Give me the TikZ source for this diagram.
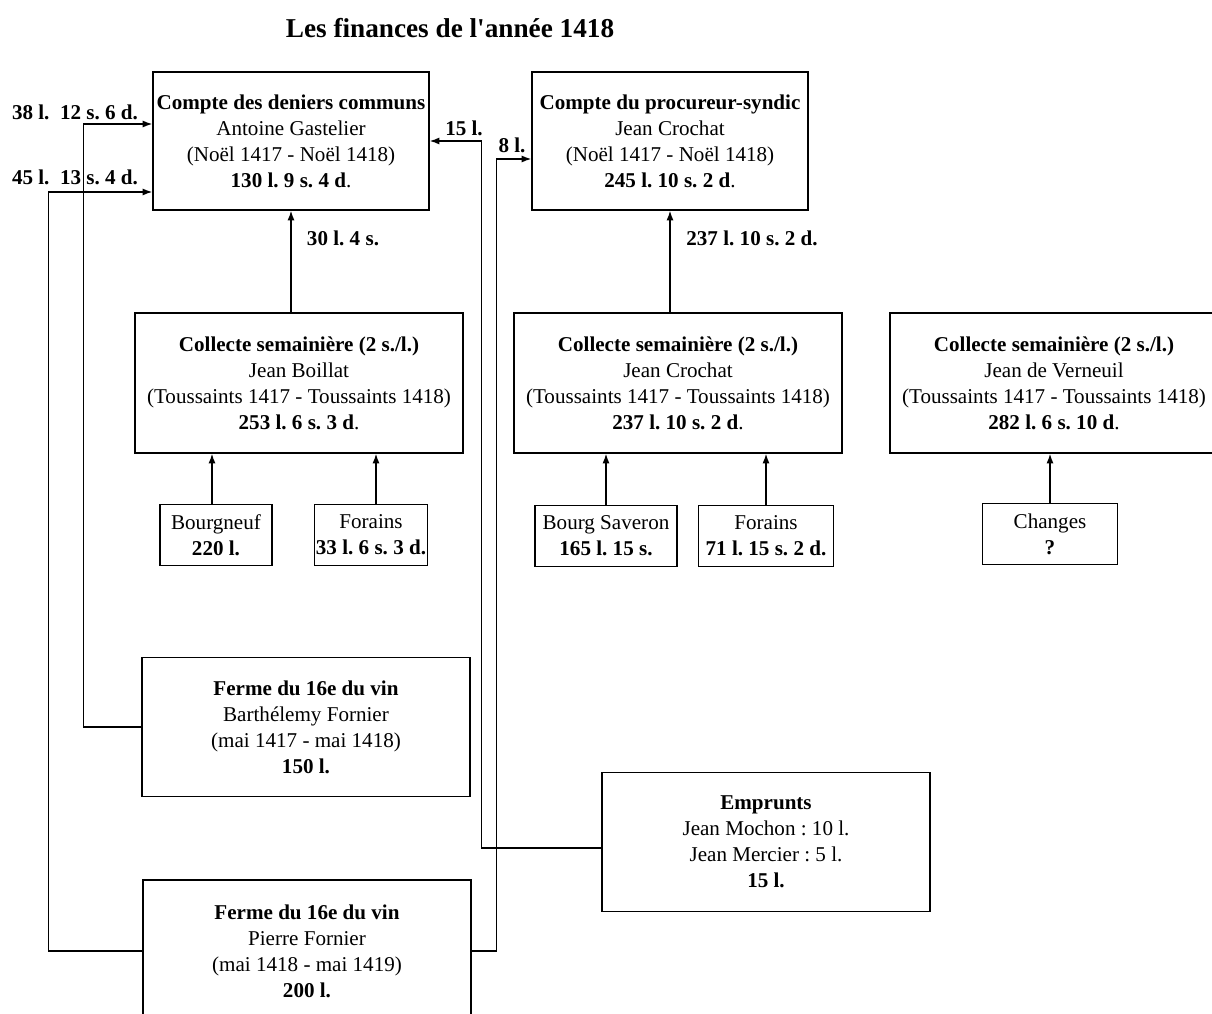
\documentclass[tikz,border=0pt]{standalone}
\usepackage{fontspec}
\setmainfont{Liberation Serif}
\usetikzlibrary{arrows.meta}
\frenchspacing

\begin{document}
\begin{tikzpicture}[x=0.02cm, y=-0.02cm, >={Latex[length=5.5pt, width=4pt]},
      every node/.style={font=\fontsize{12}{14.8}\selectfont},
      account/.style={draw, thick, align=center, inner sep=0pt,
          minimum width=5.52cm, minimum height=2.76cm},
      collect/.style={draw, thick, align=center, inner sep=0pt,
          minimum width=6.56cm, minimum height=2.8cm},
      source/.style={draw, thick, align=center, inner sep=0pt,
          minimum height=1.22cm},
      amount/.style={font=\fontsize{12}{14.8}\selectfont\bfseries, inner sep=1pt}]
    \useasboundingbox (0,0) rectangle (1212,1013);
    \node[font=\fontsize{15.5}{18}\selectfont\bfseries] (title) at (450,28)
          {Les finances de l\textquotesingle année 1418};
    % comptes
    \node[account] (DEN) at (291,141)
          {\textbf{Compte des deniers communs}\\Antoine Gastelier\\(Noël 1417 - Noël 1418)\\\textbf{130 l. 9 s. 4 d}.};
    \node[account] (PROC) at (670,141)
          {\textbf{Compte du procureur-syndic}\\Jean Crochat\\(Noël 1417 - Noël 1418)\\\textbf{245 l. 10 s. 2 d}.};
    % collectes
    \node[collect] (COLB) at (299,383)
          {\textbf{Collecte semainière (2 s./l.)}\\Jean Boillat\\(Toussaints 1417 - Toussaints 1418)\\\textbf{253 l. 6 s. 3 d}.};
    \node[collect] (COLC) at (678,383)
          {\textbf{Collecte semainière (2 s./l.)}\\Jean Crochat\\(Toussaints 1417 - Toussaints 1418)\\\textbf{237 l. 10 s. 2 d}.};
    \node[collect] (COLV) at (1054,383)
          {\textbf{Collecte semainière (2 s./l.)}\\Jean de Verneuil\\(Toussaints 1417 - Toussaints 1418)\\\textbf{282 l. 6 s. 10 d}.};
    % sources
    \node[source, minimum width=2.24cm] (BOURG) at (216,535) {Bourgneuf\\\textbf{220 l.}};
    \node[source, minimum width=2.26cm] (FOR1) at (371,535) {Forains\\\textbf{33 l. 6 s. 3 d.}};
    \node[source, minimum width=2.84cm] (SAV) at (606,536) {Bourg Saveron\\\textbf{165 l. 15 s.}};
    \node[source, minimum width=2.7cm] (FOR2) at (766,536) {Forains\\\textbf{71 l. 15 s. 2 d.}};
    \node[source, minimum width=2.7cm] (CHG) at (1050,534) {Changes\\\textbf{?}};
    % fermes et emprunts
    \node[collect, minimum height=2.78cm] (FERB) at (306,727)
          {\textbf{Ferme du 16e du vin}\\Barthélemy Fornier\\(mai 1417 - mai 1418)\\\textbf{150 l.}};
    \node[collect, minimum height=2.84cm] (FERP) at (307,951)
          {\textbf{Ferme du 16e du vin}\\Pierre Fornier\\(mai 1418 - mai 1419)\\\textbf{200 l.}};
    \node[collect, minimum height=2.78cm] (EMP) at (766,842)
          {\textbf{Emprunts}\\Jean Mochon : 10 l.\\Jean Mercier : 5 l.\\\textbf{15 l.}};
    % montants
    \node[amount] (a38) at (75,112) {38 l.\ \ 12 s. 6 d.};
    \node[amount] (a45) at (75,177) {45 l.\ \ 13 s. 4 d.};
    \node[amount] (a15) at (464,128) {15 l.};
    \node[amount] (a8) at (512,145) {8 l.};
    \node[amount] (a30) at (343,238) {30 l. 4 s.};
    \node[amount] (a237) at (752,238) {237 l. 10 s. 2 d.};
    % fleches
    \draw[->, thick] (DEN.south |- COLB.north) -- (DEN.south);
    \draw[->, thick] (PROC.south |- COLC.north) -- (PROC.south);
    \draw[->, thick] ([xshift=-0.08cm]BOURG.north) -- ([xshift=-0.08cm]BOURG.north |- COLB.south);
    \draw[->, thick] ([xshift=0.1cm]FOR1.north) -- ([xshift=0.1cm]FOR1.north |- COLB.south);
    \draw[->, thick] (SAV.north) -- (SAV.north |- COLC.south);
    \draw[->, thick] (FOR2.north) -- (FOR2.north |- COLC.south);
    \draw[->, thick] (CHG.north) -- (CHG.north |- COLV.south);
    \draw[->, thick] (FERB.west) -| ([xshift=-1.38cm, yshift=0.34cm]DEN.west) -- ([yshift=0.34cm]DEN.west);
    \draw[->, thick] (FERP.west) -| ([xshift=-2.08cm, yshift=-1.02cm]DEN.west) -- ([yshift=-1.02cm]DEN.west);
    \draw[->, thick] ([yshift=-0.12cm]EMP.west) -| ([xshift=1.04cm]DEN.east) -- (DEN.east);
    \draw[->, thick] (FERP.east) -| ([xshift=-0.7cm, yshift=-0.36cm]PROC.west) -- ([yshift=-0.36cm]PROC.west);
  \end{tikzpicture}
\end{document}
